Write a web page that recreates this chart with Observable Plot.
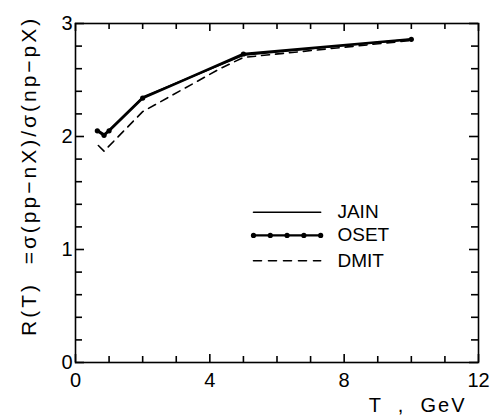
<!DOCTYPE html>
<html>
<head>
<meta charset="utf-8">
<script src="https://cdn.jsdelivr.net/npm/d3@7"></script>
<script src="https://cdn.jsdelivr.net/npm/@observablehq/plot@0.6"></script>
<style>
  html, body { margin: 0; padding: 0; background: #fff; }
  #chart { width: 492px; height: 417px; }
</style>
</head>
<body>
<div id="chart"></div>
<script>
// Data
const osetT = [0.65, 0.85, 1.0, 2.0, 5.0, 10.0];
const osetR = [2.05, 2.01, 2.05, 2.34, 2.73, 2.86];
const jainT = [0.65, 0.85, 1.0, 2.0, 5.0, 10.0];
const jainR = [2.06, 2.02, 2.06, 2.35, 2.72, 2.86];
const dmitT = [0.68, 0.85, 2.0, 4.3, 5.0, 10.0];
const dmitR = [1.92, 1.87, 2.22, 2.60, 2.70, 2.85];

const xTickLabels = [0, 4, 8, 12];
const yTickLabels = [0, 1, 2, 3];
const xMinorTicks = [0, 1, 2, 3, 4, 5, 6, 7, 8, 9, 10, 11, 12];
const yMinorTicks = [0, 0.2, 0.4, 0.6, 0.8, 1, 1.2, 1.4, 1.6, 1.8, 2, 2.2, 2.4, 2.6, 2.8, 3];

const legendNames = ["JAIN", "OSET", "DMIT"];

const font = "Liberation Sans, Arial, Helvetica, sans-serif";

const oset = osetT.map((t, i) => ({T: t, R: osetR[i]}));
const jain = jainT.map((t, i) => ({T: t, R: jainR[i]}));
const dmit = dmitT.map((t, i) => ({T: t, R: dmitR[i]}));

// legend geometry in data units
const lx1 = 5.3, lx2 = 7.3, ltx = 7.8;
const ly = [1.33, 1.125, 0.9];
const legJain = [{T: lx1, R: ly[0]}, {T: lx2, R: ly[0]}];
const legOsetDots = d3.range(5).map(i => ({T: lx1 + i * (lx2 - lx1) / 4, R: ly[1]}));
const legDmit = [{T: lx1, R: ly[2]}, {T: lx2, R: ly[2]}];
const legText = legendNames.map((n, i) => ({T: ltx, R: ly[i], name: n}));

const W = 492, H = 417, ML = 75, MR = 14, MT = 23, MB = 55;
const PW = W - ML - MR, PH = H - MT - MB;
const xMaj = xMinorTicks.filter(d => d % 4 === 0);
const xMin = xMinorTicks.filter(d => d % 4 !== 0);
const yMaj = yMinorTicks.filter(d => Number.isInteger(d));
const yMin = yMinorTicks.filter(d => !Number.isInteger(d));
const tk = {stroke: "#000", strokeWidth: 1.6};

const plot = Plot.plot({
  width: W,
  height: H,
  marginLeft: ML,
  marginRight: MR,
  marginTop: MT,
  marginBottom: MB,
  style: {fontFamily: font, background: "#fff", color: "#000"},
  x: {domain: [0, 12]},
  y: {domain: [0, 3]},
  marks: [
    // inward ticks on all four sides
    Plot.tickX(xMin, {x: d => d, insetTop: PH - 6, ...tk}),
    Plot.tickX(xMaj, {x: d => d, insetTop: PH - 8, ...tk}),
    Plot.tickX(xMin, {x: d => d, insetBottom: PH - 6, ...tk}),
    Plot.tickX(xMaj, {x: d => d, insetBottom: PH - 8, ...tk}),
    Plot.tickY(yMin, {y: d => d, insetRight: PW - 7, ...tk}),
    Plot.tickY(yMaj, {y: d => d, insetRight: PW - 9, ...tk}),
    Plot.tickY(yMin, {y: d => d, insetLeft: PW - 7, ...tk}),
    Plot.tickY(yMaj, {y: d => d, insetLeft: PW - 9, ...tk}),
    Plot.frame({stroke: "#000", strokeWidth: 1.6}),
    Plot.axisX({ticks: xTickLabels, tickSize: 0, tickPadding: 10, fontSize: 20, label: null, tickFormat: d => String(d)}),
    Plot.axisY({ticks: yTickLabels, tickSize: 0, tickPadding: 3, fontSize: 20, label: null, tickFormat: d => String(d)}),
    Plot.text(["T  ,  GeV"], {frameAnchor: "bottom-right", dy: 49, dx: -12, fontSize: 20, textAnchor: "end", className: "xlab"}),
    Plot.text(["R(T)  =σ(pp−nX)/σ(np−pX)"], {frameAnchor: "left", dx: -46, dy: 143, rotate: -90, fontSize: 21, textAnchor: "start", className: "ylab"}),
    // curves
    Plot.line(dmit, {x: "T", y: "R", stroke: "#000", strokeWidth: 1.6, strokeDasharray: "8,6"}),
    Plot.line(jain, {x: "T", y: "R", stroke: "#000", strokeWidth: 1.6}),
    Plot.line(oset, {x: "T", y: "R", stroke: "#000", strokeWidth: 2.6}),
    Plot.dot(oset, {x: "T", y: "R", r: 2.6, fill: "#000"}),
    // legend
    Plot.line(legJain, {x: "T", y: "R", stroke: "#000", strokeWidth: 1.6}),
    Plot.line(legOsetDots, {x: "T", y: "R", stroke: "#000", strokeWidth: 2.4}),
    Plot.dot(legOsetDots, {x: "T", y: "R", r: 2.6, fill: "#000"}),
    Plot.line(legDmit, {x: "T", y: "R", stroke: "#000", strokeWidth: 1.6, strokeDasharray: "8,7"}),
    Plot.text(legText, {x: "T", y: "R", text: "name", textAnchor: "start", fontSize: 19})
  ]
});
d3.select(plot).selectAll("g.ylab text").attr("letter-spacing", "3px");
d3.select(plot).selectAll("g.xlab text").attr("letter-spacing", "2px");
document.getElementById("chart").appendChild(plot);
</script>
</body>
</html>
